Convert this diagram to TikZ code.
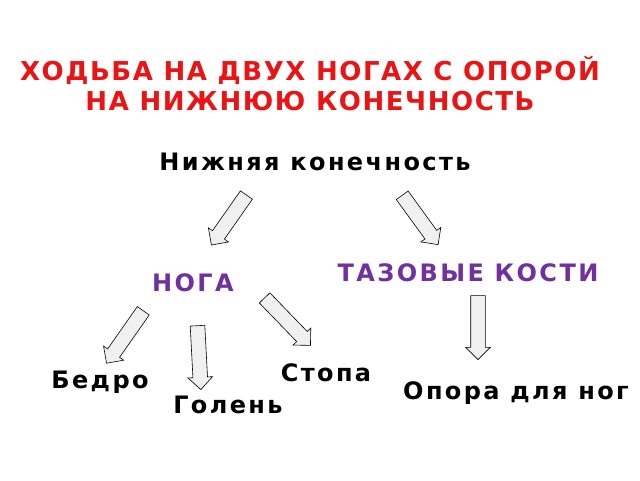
\documentclass[tikz,border=0pt]{standalone}
\usepackage{fontspec}
\setmainfont{DejaVu Sans}
\newfontfamily\widesans[LetterSpace=10]{DejaVu Sans}
\newfontfamily\titlesans[LetterSpace=6]{DejaVu Sans}
\usetikzlibrary{shapes.arrows}
\definecolor{titlered}{RGB}{235,20,20}
\definecolor{nogaviolet}{RGB}{112,48,160}
\tikzset{
    blockarrow/.style = {single arrow, draw = black, fill = gray!12, line width = .06em,
        single arrow head extend = 5pt, inner sep = 7pt, minimum height = #1},
    heading/.style = {font = \titlesans\bfseries\fontsize{26}{30}\selectfont, text = titlered, align = center},
    group/.style = {font = \widesans\bfseries\fontsize{24}{27}\selectfont, text = nogaviolet},
    part/.style = {font = \widesans\bfseries\fontsize{24}{27}\selectfont}
}
\begin{document}
\begin{tikzpicture}[x = 1pt, y = -1pt]
            \useasboundingbox (0, 0) rectangle (640, 480);
            \node[heading] (title) at (310, 84) {ХОДЬБА НА ДВУХ НОГАХ С ОПОРОЙ\\НА НИЖНЮЮ КОНЕЧНОСТЬ};
            \node[part] (limb) at (315, 162) {Нижняя конечность};

            \node[blockarrow = 61pt, rotate = -125] (arrowleg) at (231, 217) {};
            \node[blockarrow = 61pt, rotate = -54] (arrowpelvis) at (418, 217) {};

            \node[group] (leg) at (193, 283) {НОГА};
            \node[group] (pelvis) at (468, 273) {ТАЗОВЫЕ КОСТИ};

            \node[blockarrow = 64pt, rotate = -90] (arrowsupport) at (478, 324) {};
            \node[blockarrow = 64pt, rotate = -125] (arrowthigh) at (127, 334) {};
            \node[blockarrow = 64pt, rotate = -87] (arrowshin) at (199, 354) {};
            \node[blockarrow = 66pt, rotate = -46] (arrowfoot) at (285, 319) {};

            \node[part] (thigh) at (100, 382) {Бедро};
            \node[part] (shin) at (228, 405) {Голень};
            \node[part] (foot) at (326, 373) {Стопа};
            \node[part] (support) at (516, 393) {Опора для ног};
        \end{tikzpicture}
\end{document}
